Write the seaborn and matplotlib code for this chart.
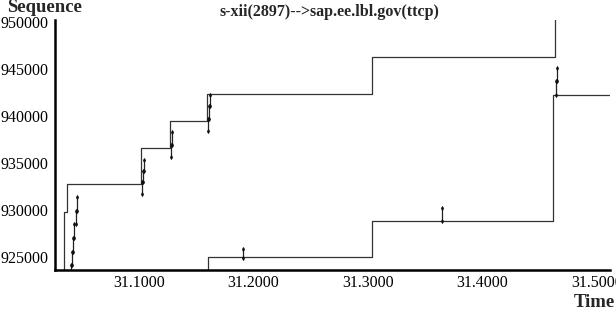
import matplotlib
matplotlib.use("Agg")
import matplotlib.pyplot as plt
import matplotlib.ticker as mticker
import pandas as pd
import seaborn as sns

# step lines (time, sequence), drawn as steps-post
upper_t = [31.0345, 31.0345, 31.0371, 31.1017, 31.1270, 31.1594, 31.3035, 31.4633, 31.4633]
upper_seq = [923000, 929800, 932700, 936550, 939480, 942350, 946280, 946280, 951000]
lower_t = [31.1600, 31.1600, 31.3035, 31.4616, 31.5110]
lower_seq = [923000, 925000, 928850, 942250, 942250]

# data segments: time, start seq, end seq
seg_t = [31.0405, 31.0413, 31.0424, 31.0436, 31.0447, 31.0459,
         31.1024, 31.1034, 31.1044,
         31.1278, 31.1288,
         31.1600, 31.1610, 31.1620,
         31.1908, 31.3646,
         31.4646, 31.4656]
seg_start = [922620, 924080, 925540, 927000, 928460, 929920,
             931700, 932950, 934100,
             935600, 936950,
             938400, 939700, 941000,
             924900, 928850,
             942250, 943700]
seg_end = [924080, 925540, 927000, 928460, 929920, 931380,
           932950, 934100, 935300,
           936950, 938300,
           939700, 941000, 942200,
           925850, 930200,
           943700, 945100]

sns.set_theme(style="white")
plt.rcParams['font.family'] = ['Liberation Serif', 'DejaVu Serif']

fig = plt.figure(figsize=(6.16, 3.12), dpi=100)
ax = fig.add_axes([0.0893, 0.1346, 0.9007, 0.8014])

up = pd.DataFrame({'t': upper_t, 'seq': upper_seq})
lo = pd.DataFrame({'t': lower_t, 'seq': lower_seq})
sns.lineplot(data=up, x='t', y='seq', estimator=None, sort=False, drawstyle='steps-post',
             color='#333333', linewidth=0.9, ax=ax)
sns.lineplot(data=lo, x='t', y='seq', estimator=None, sort=False, drawstyle='steps-post',
             color='#333333', linewidth=0.9, ax=ax)

ax.vlines(seg_t, seg_start, seg_end, color='#222222', linewidth=0.9)
ends = pd.DataFrame({'t': seg_t + seg_t, 'seq': seg_start + seg_end})
sns.scatterplot(data=ends, x='t', y='seq', marker='d', s=6, color='#111111',
                edgecolor='#111111', ax=ax, zorder=3)

ax.set_xlim(31.0266, 31.5114)
ax.set_ylim(923600, 950200)
ax.set_yticks([925000, 930000, 935000, 940000, 945000, 950000])
ax.set_xticks([31.1, 31.2, 31.3, 31.4, 31.5])
ax.xaxis.set_major_formatter(mticker.FormatStrFormatter('%.4f'))
ax.yaxis.set_major_formatter(mticker.FormatStrFormatter('%d'))
ax.tick_params(axis='both', labelsize=11.5, colors='black', length=3, width=1.2,
               direction='inout', pad=3)
ax.tick_params(axis='x', pad=2)
for s in ['top', 'right']:
    ax.spines[s].set_visible(False)
for s in ['left', 'bottom']:
    ax.spines[s].set_color('black')
    ax.spines[s].set_linewidth(1.8)
ax.set_xlabel('')
ax.set_ylabel('')

fig.text(0.073, 1.004, 'Sequence', fontsize=13.5, fontweight='bold', ha='center', va='top')
fig.text(0.535, 0.962, 's-xii(2897)-->sap.ee.lbl.gov(ttcp)', fontsize=11.5,
         fontweight='bold', ha='center', va='center')
fig.text(0.965, 0.03, 'Time', fontsize=13.5, fontweight='bold', ha='center', va='center')

fig.savefig('out.png', dpi=100)
